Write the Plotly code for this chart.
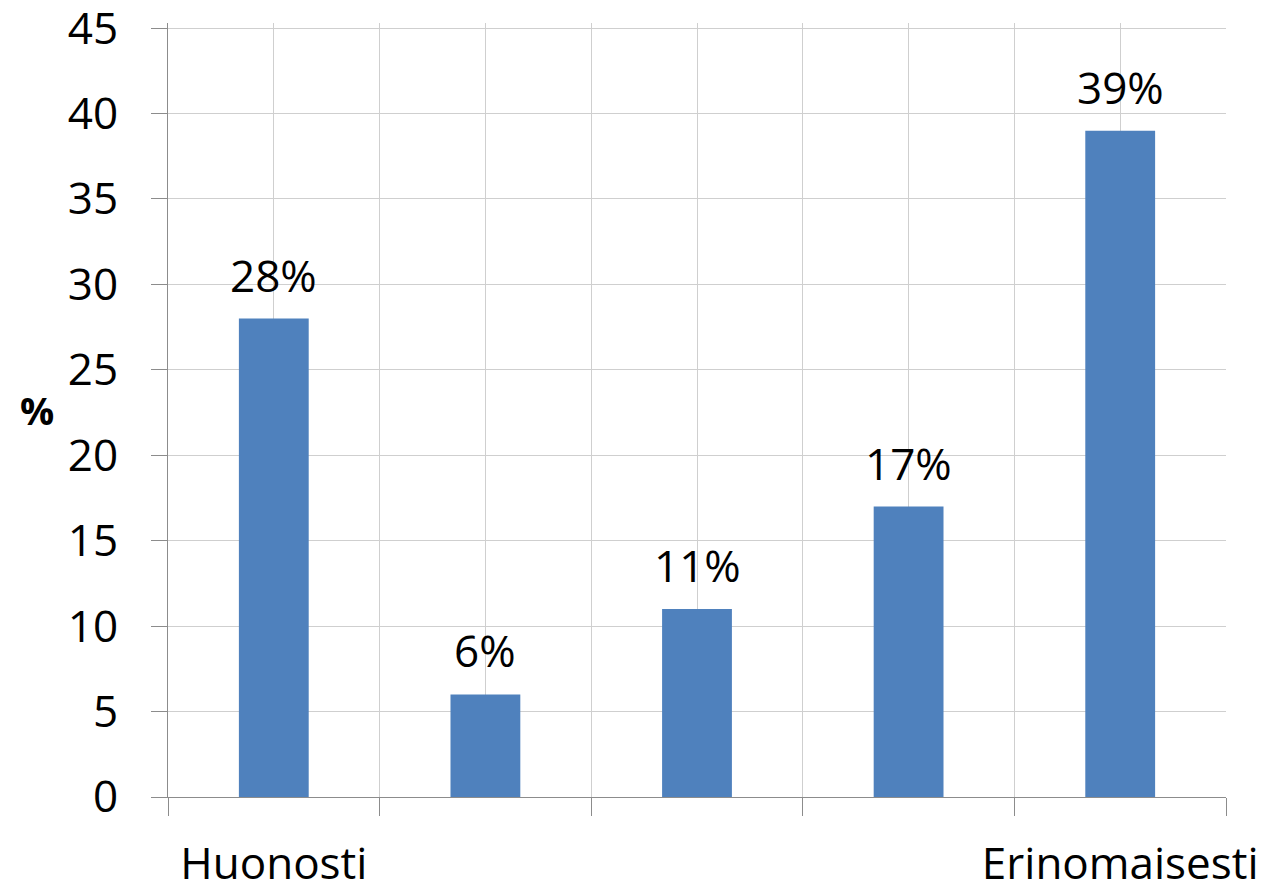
import plotly.graph_objects as go

categories = ["Huonosti", "", "", "", "Erinomaisesti"]
values = [28, 6, 11, 17, 39]
value_labels = ["28%", "6%", "11%", "17%", "39%"]
y_ticks = [0, 5, 10, 15, 20, 25, 30, 35, 40, 45]

FONT = "Open Sans"
FS = 44
positions = list(range(len(values)))
boundaries = [p - 0.5 for p in positions] + [positions[-1] + 0.5]

fig = go.Figure()
fig.add_trace(go.Bar(
    x=positions, y=values, width=0.33,
    marker=dict(color="#4F81BD", line=dict(width=0)),
    hoverinfo="skip",
))

for p, v, t in zip(positions, values, value_labels):
    fig.add_annotation(x=p, y=v, text=t, showarrow=False, yanchor="bottom",
                       yshift=12, font=dict(family=FONT, size=FS, color="black"))

fig.add_annotation(xref="paper", yref="paper", x=-0.142, y=0.5, text="<b>%</b>",
                   showarrow=False, xanchor="left",
                   font=dict(family=FONT, size=38, color="black"))

fig.update_layout(
    width=1266, height=884,
    margin=dict(l=160, r=48, t=15, b=95, autoexpand=False),
    plot_bgcolor="white", paper_bgcolor="white",
    showlegend=False,
    font=dict(family=FONT, size=FS, color="black"),
    xaxis=dict(
        range=[-0.5, len(values) - 0.5], automargin=False,
        tickmode="array", tickvals=positions, ticktext=categories,
        ticks="", showgrid=True, gridcolor="#cfcfcf", gridwidth=1,
        showline=True, linecolor="#8c8c8c", linewidth=1,
        zeroline=False, ticklabelstandoff=28, ticklabeloverflow="allow",
        tickfont=dict(family=FONT, size=FS, color="black"),
        minor=dict(tickmode="array", tickvals=boundaries, ticks="outside",
                   ticklen=18, tickcolor="#8c8c8c", showgrid=True,
                   gridcolor="#cfcfcf", gridwidth=1),
    ),
    yaxis=dict(
        range=[0, 45.3], automargin=False, tickmode="array", tickvals=y_ticks,
        ticks="outside", ticklen=16, tickcolor="#8c8c8c",
        showgrid=True, gridcolor="#cfcfcf", gridwidth=1,
        showline=True, linecolor="#8c8c8c", linewidth=1,
        zeroline=False, ticklabelstandoff=24, ticklabeloverflow="allow",
        tickfont=dict(family=FONT, size=FS, color="black"),
    ),
)

fig.write_html("out.html")
